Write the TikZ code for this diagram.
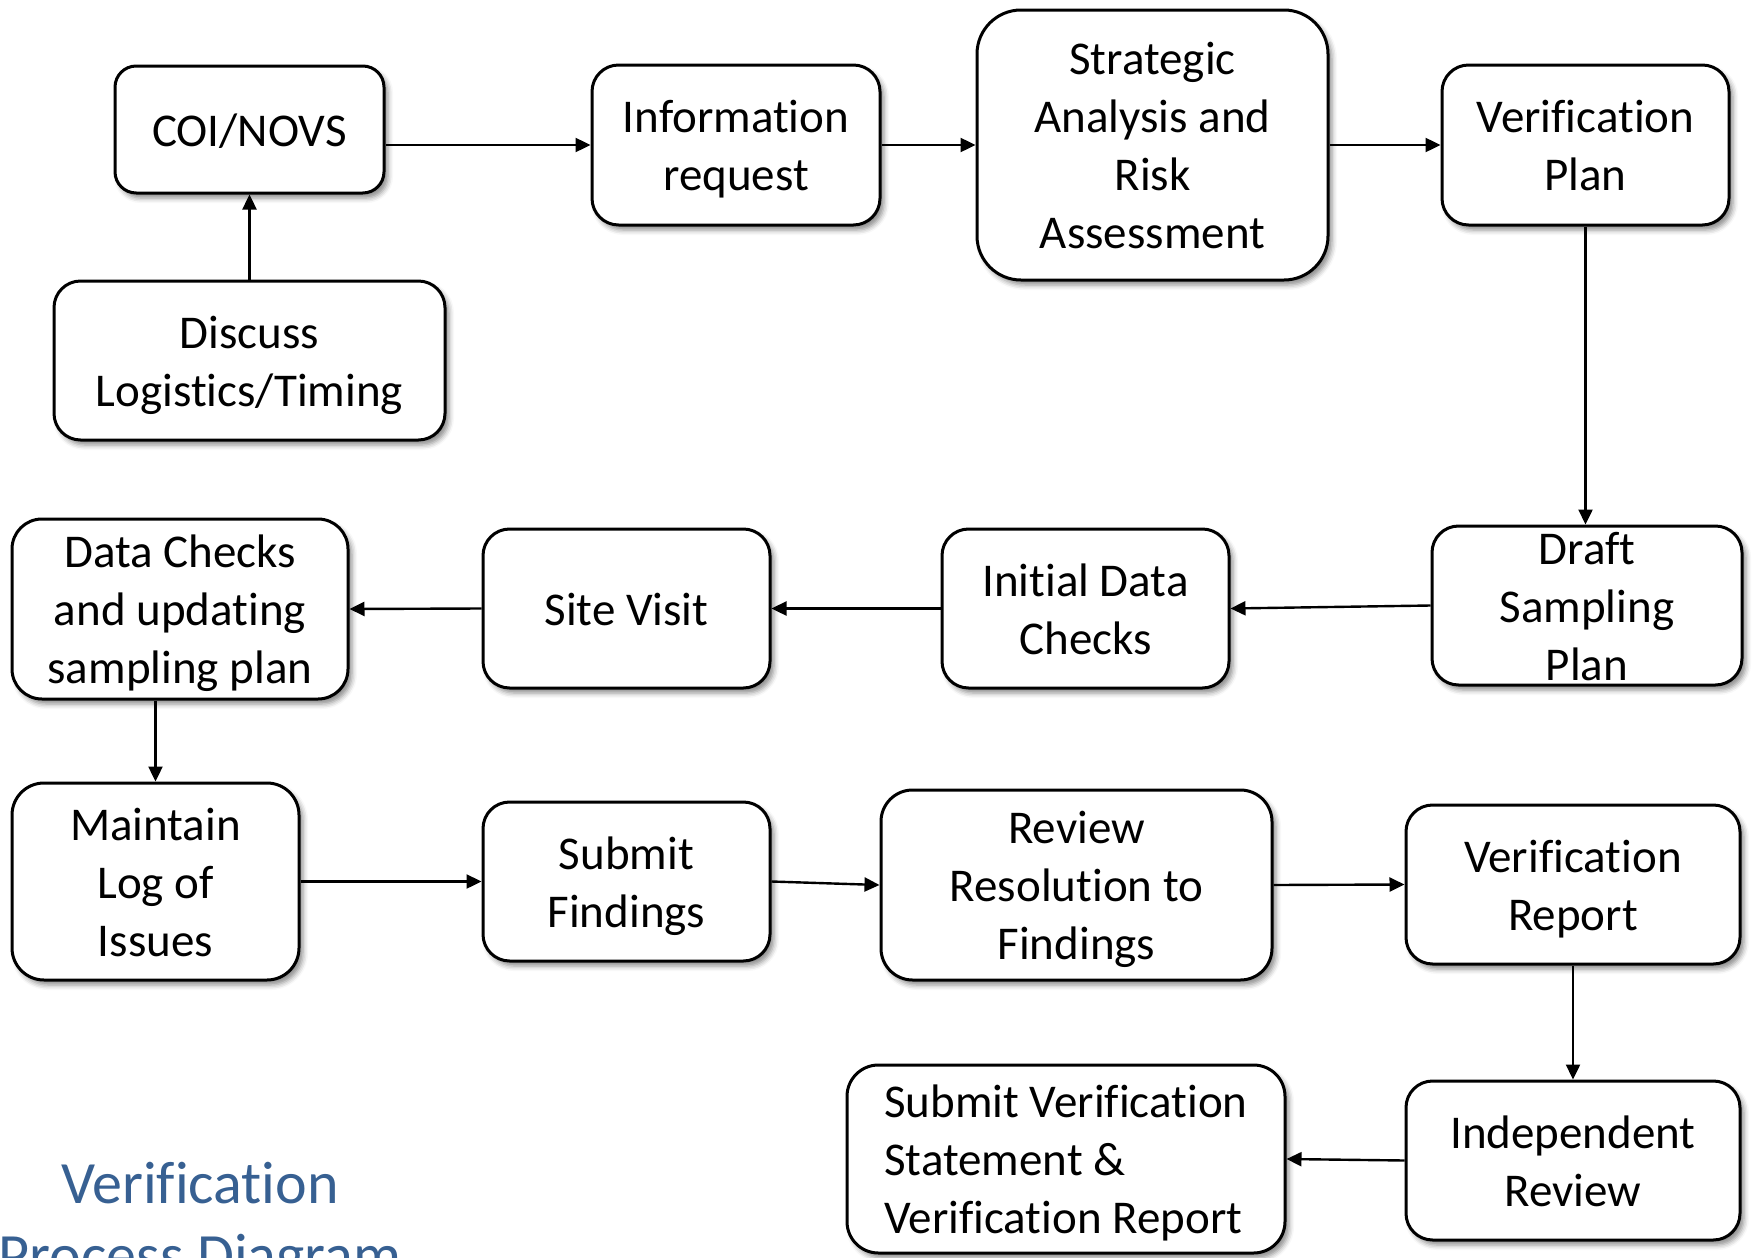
\documentclass[tikz,border=0pt]{standalone}
\usepackage{fontspec}
\setmainfont{Carlito}[Ligatures=NoCommon]
\usetikzlibrary{arrows.meta,shadows.blur}
\definecolor{titleblue}{RGB}{55,96,146}
\newcommand\tstrut{\rule{0pt}{23.3pt}}
\newcommand\bstrut{\rule[-6.5pt]{0pt}{6.5pt}}
\newcommand\tstrutsmall{\rule{0pt}{19pt}}
\newcommand\bstrutsmall{\rule[-2.2pt]{0pt}{2.2pt}}
\begin{document}
\begin{tikzpicture}[x=0.5pt,y=-0.5pt,
  box/.style={draw=black, line width=1.5pt, fill=white, align=center, inner sep=0pt,
    font=\fontsize{23.5}{29}\selectfont,
    blur shadow={shadow xshift=2pt, shadow yshift=-2.5pt, shadow blur radius=2.5pt, shadow opacity=45}},
  conn/.style={line width=1.2pt, -{Triangle[length=7.5pt,width=7pt]}},
  titletext/.style={text=titleblue, font=\fontsize{30}{36}\selectfont, inner sep=0pt, anchor=base}]
\useasboundingbox (0,0) rectangle (1757,1258);
\clip (0,0) rectangle (1757,1258);

\node[box, rounded corners=10.6pt, minimum width=134.5pt, minimum height=63.5pt] (coi) at (249.5,129.5) {\tstrut COI/NOVS\bstrut};
\node[box, rounded corners=13.3pt, minimum width=144pt, minimum height=80pt] (info) at (736,145) {\tstrut Information\\request\bstrut};
\node[box, rounded corners=22pt, minimum width=175.5pt, minimum height=135pt] (strat) at (1152.5,145) {\tstrut Strategic\\Analysis and\\Risk\\Assessment\bstrut};
\node[box, rounded corners=13.3pt, minimum width=143.5pt, minimum height=80pt] (vplan) at (1585.5,145) {\tstrut Verification\\Plan\bstrut};
\node[box, rounded corners=13.3pt, minimum width=195.5pt, minimum height=79.5pt] (disc) at (249.5,360.5) {\tstrut Discuss\\Logistics/Timing\bstrut};
\node[box, rounded corners=15pt, minimum width=168pt, minimum height=90pt] (dchk) at (180,609) {\tstrut Data Checks\\and updating\\sampling plan\bstrut};
\node[box, rounded corners=13.3pt, minimum width=143.5pt, minimum height=79.5pt] (site) at (626.5,608.5) {\tstrut Site Visit\bstrut};
\node[box, rounded corners=13.3pt, minimum width=143.5pt, minimum height=79.5pt] (init) at (1085.5,608.5) {\tstrut Initial Data\\Checks\bstrut};
\node[box, rounded corners=13.3pt, minimum width=155pt, minimum height=79.5pt] (draft) at (1587,605.5) {\tstrutsmall Draft\\Sampling\\Plan\bstrutsmall};
\node[box, rounded corners=16pt, minimum width=143.5pt, minimum height=98.5pt] (mlog) at (155.5,881.5) {\tstrut Maintain\\Log of\\Issues\bstrut};
\node[box, rounded corners=13.3pt, minimum width=143.5pt, minimum height=79.5pt] (subf) at (626.5,881.5) {\tstrut Submit\\Findings\bstrut};
\node[box, rounded corners=15.8pt, minimum width=195.5pt, minimum height=95pt] (rev) at (1076.5,885) {\tstrut Review\\Resolution to\\Findings\bstrut};
\node[box, rounded corners=13.3pt, minimum width=167pt, minimum height=79.5pt] (vrep) at (1573,884.5) {\tstrut Verification\\Report\bstrut};
\node[box, rounded corners=13.3pt, minimum width=167pt, minimum height=79.5pt] (indep) at (1573,1160.5) {\tstrut Independent\\Review\bstrut};
\node[box, rounded corners=15.7pt, align=left, minimum width=219pt, minimum height=94pt] (svs) at (1066,1159) {\tstrut Submit Verification\\Statement \&\\Verification Report\bstrut};

\node[titletext] (title1) at (200,1203) {Verification};
\node[titletext] (title2) at (200,1275) {Process Diagram};

\draw[conn] (disc.north) -- (coi.south);
\draw[conn] (coi.east |- info.west) -- (info.west);
\draw[conn] (info.east) -- (strat.west);
\draw[conn] (strat.east) -- (vplan.west);
\draw[conn] (vplan.south) -- (vplan.south |- draft.north);
\draw[conn] (draft.west) -- (init.east);
\draw[conn] (init.west) -- (site.east);
\draw[conn] (site.west) -- (dchk.east);
\draw[conn] (mlog.north |- dchk.south) -- (mlog.north);
\draw[conn] (mlog.east) -- (subf.west);
\draw[conn] (subf.east) -- (rev.west);
\draw[conn] (rev.east) -- (vrep.west);
\draw[conn] (vrep.south) -- (indep.north);
\draw[conn] (indep.west) -- (svs.east);
\end{tikzpicture}
\end{document}
